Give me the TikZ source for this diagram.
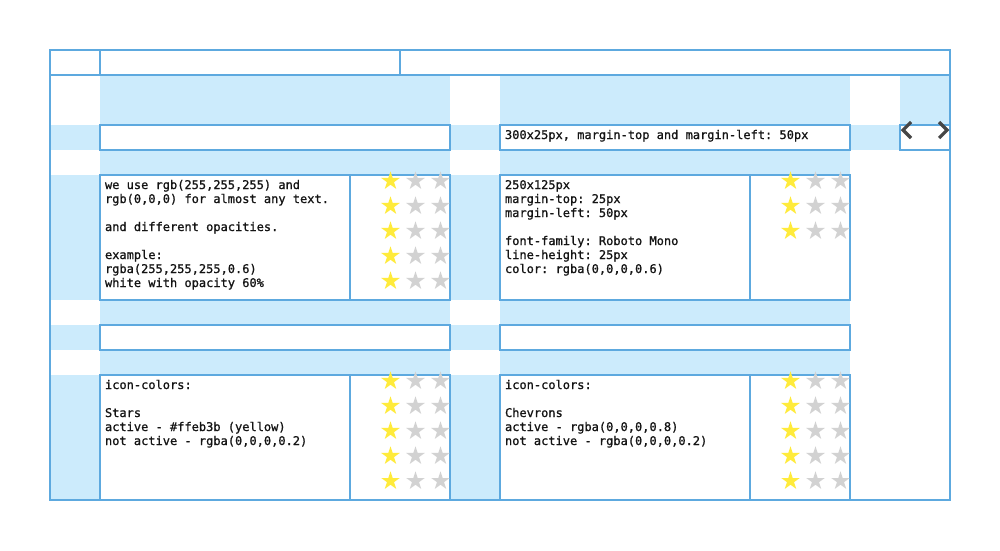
\documentclass[tikz,border=0pt]{standalone}
\usepackage{fontspec}
\setmonofont[FakeBold=1]{DejaVu Sans Mono}
\usetikzlibrary{shapes.geometric}
\definecolor{lb}{RGB}{204,235,252}
\definecolor{bd}{RGB}{93,169,223}
\definecolor{bdl}{RGB}{150,200,238}
\definecolor{ink}{RGB}{20,20,20}
\definecolor{yel}{HTML}{FFEB3B}
\definecolor{gry}{RGB}{210,210,210}
\definecolor{chev}{RGB}{70,70,70}
\begin{document}
\begin{tikzpicture}[x=1pt,y=-1pt,
  box/.style={draw=bd, line width=1.5pt, fill=white, inner sep=0pt, outer sep=0pt, anchor=north west},
  frame/.style={draw=bd, line width=1.5pt, inner sep=0pt, outer sep=0pt, anchor=north west},
  txt/.style={font=\ttfamily\fontsize{12}{14}\selectfont, text=ink, align=left, inner sep=0pt, outer sep=0pt, anchor=north west},
  staricon/.style={star, star points=5, star point ratio=2.618, minimum size=19.5pt, inner sep=0pt, draw=none},
  staron/.style={staricon, fill=yel},
  staroff/.style={staricon, fill=gry},
  chevron/.style={draw=chev, line width=3.2pt}
]
\useasboundingbox (0,0) rectangle (1000,550);
% light blue areas
\fill[lb] (100,75) rectangle (450,500);
\fill[lb] (500,75) rectangle (850,500);
\foreach \x in {50,450}{
  \fill[lb] (\x,125) rectangle ++(50,25);
  \fill[lb] (\x,175) rectangle ++(50,125);
  \fill[lb] (\x,325) rectangle ++(50,25);
  \fill[lb] (\x,375) rectangle ++(50,125);
}
\fill[lb] (850,125) rectangle (900,150);
\fill[lb] (900,75) rectangle (950,125);
% frame and header
\node[frame, minimum width=900pt, minimum height=450pt] (frm) at (50,50) {};
\node[box, minimum width=50pt, minimum height=25pt] (h1) at (50,50) {};
\node[box, minimum width=300pt, minimum height=25pt] (h2) at (100,50) {};
\node[box, minimum width=550pt, minimum height=25pt] (h3) at (400,50) {};
% row 1
\node[box, minimum width=350pt, minimum height=25pt] (r1a) at (100,125) {};
\node[box, minimum width=350pt, minimum height=25pt] (r1b) at (500,125) {};
\node[box, minimum width=50pt, minimum height=25pt] (r1c) at (900,125) {};
\node[txt] (t0) at (505,129) {\rule{0pt}{10pt}300x25px, margin-top and margin-left: 50px};
\draw[chevron] (911,122) -- (903,130) -- (911,138);
\draw[chevron] (939,122) -- (947,130) -- (939,138);
% row 2
\node[box, minimum width=250pt, minimum height=125pt] (b1) at (100,175) {};
\node[box, minimum width=100pt, minimum height=125pt] (s1) at (350,175) {};
\node[box, minimum width=250pt, minimum height=125pt] (b2) at (500,175) {};
\node[box, minimum width=100pt, minimum height=125pt] (s2) at (750,175) {};
\node[txt] (t1) at (105,179) {\rule{0pt}{10pt}we use rgb(255,255,255) and\\rgb(0,0,0) for almost any text.\\[14pt]and different opacities.\\[14pt]example:\\rgba(255,255,255,0.6)\\white with opacity 60\%};
\node[txt] (t2) at (505,179) {\rule{0pt}{10pt}250x125px\\margin-top: 25px\\margin-left: 50px\\[14pt]font-family: Roboto Mono\\line-height: 25px\\color: rgba(0,0,0,0.6)};
% row 3
\node[box, minimum width=350pt, minimum height=25pt] (r3a) at (100,325) {};
\node[box, minimum width=350pt, minimum height=25pt] (r3b) at (500,325) {};
% row 4
\node[box, minimum width=250pt, minimum height=125pt] (b3) at (100,375) {};
\node[box, minimum width=100pt, minimum height=125pt] (s3) at (350,375) {};
\node[box, minimum width=250pt, minimum height=125pt] (b4) at (500,375) {};
\node[box, minimum width=100pt, minimum height=125pt] (s4) at (750,375) {};
\node[txt] (t3) at (105,379) {\rule{0pt}{10pt}icon-colors:\\[14pt]Stars\\active - \#ffeb3b (yellow)\\not active - rgba(0,0,0,0.2)};
\node[txt] (t4) at (505,379) {\rule{0pt}{10pt}icon-colors:\\[14pt]Chevrons\\active - rgba(0,0,0,0.8)\\not active - rgba(0,0,0,0.2)};
% stars
\foreach \r in {0,...,4}{
  \node[staron]  (sa\r) at (390.5,{181+25*\r}) {};
  \node[staroff] (sb\r) at (415.5,{181+25*\r}) {};
  \node[staroff] (sc\r) at (440.5,{181+25*\r}) {};
  \node[staron]  (sd\r) at (390.5,{381+25*\r}) {};
  \node[staroff] (se\r) at (415.5,{381+25*\r}) {};
  \node[staroff] (sf\r) at (440.5,{381+25*\r}) {};
  \node[staron]  (sj\r) at (790.5,{381+25*\r}) {};
  \node[staroff] (sk\r) at (815.5,{381+25*\r}) {};
  \node[staroff] (sl\r) at (840.5,{381+25*\r}) {};
}
\foreach \r in {0,...,2}{
  \node[staron]  (sg\r) at (790.5,{181+25*\r}) {};
  \node[staroff] (sh\r) at (815.5,{181+25*\r}) {};
  \node[staroff] (si\r) at (840.5,{181+25*\r}) {};
}
\end{tikzpicture}
\end{document}
